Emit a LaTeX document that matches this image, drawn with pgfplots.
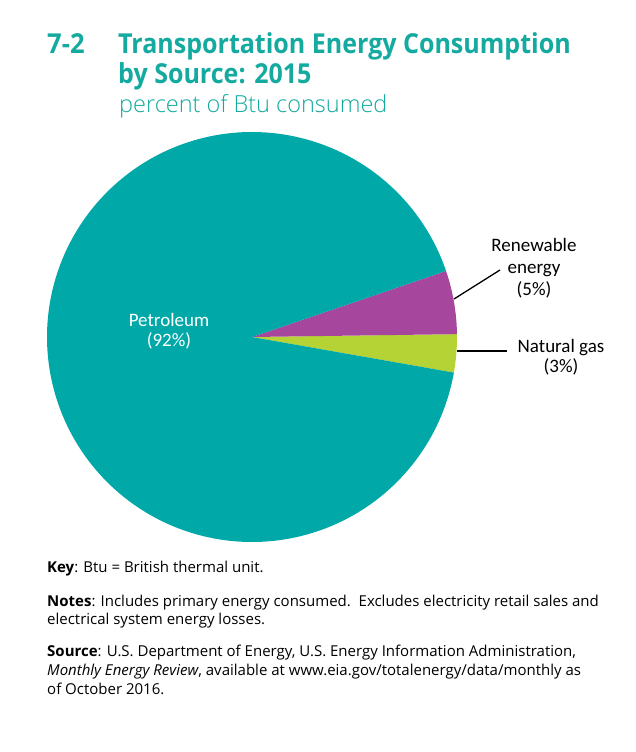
\documentclass[border=0pt]{standalone}
\usepackage{pgfplots}
\pgfplotsset{compat=1.18}
\usepackage{pgfplotstable}
\usepackage{fontspec}
\setmainfont{Carlito}
\newfontfamily\titlefont{Open Sans}
\newfontfamily\bodyfont{Open Sans}
\IfFontExistsTF{Open Sans Light}{\newfontfamily\lightfont{Open Sans Light}}{\newfontfamily\lightfont{Open Sans}}
\definecolor{pteal}{RGB}{0,168,168}
\definecolor{tteal}{RGB}{20,170,160}
\definecolor{ppurple}{RGB}{166,70,156}
\definecolor{pgreen}{RGB}{181,211,52}

\pgfplotstableread{
source value
gas 3
renewable 5
petroleum 92
}\sharetable

\begin{document}
\begin{tikzpicture}[x=1pt,y=1pt]
\path[use as bounding box] (0,0) rectangle (635,-752);
\pgfplotstablegetelem{0}{value}\of\sharetable \pgfmathsetmacro\vgas{\pgfplotsretval}
\pgfplotstablegetelem{1}{value}\of\sharetable \pgfmathsetmacro\vren{\pgfplotsretval}
\pgfplotstablegetelem{2}{value}\of\sharetable \pgfmathsetmacro\vpet{\pgfplotsretval}
\pgfmathsetmacro\aA{-10}
\pgfmathsetmacro\aB{\aA+3.6*\vgas}
\pgfmathsetmacro\aC{\aB+3.6*\vren}
\pgfmathsetmacro\aD{\aC+3.6*\vpet}
\begin{axis}[at={(47pt,-542pt)}, anchor=south west, scale only axis,
  width=410pt, height=410pt, xmin=-1, xmax=1, ymin=-1, ymax=1,
  hide axis, clip=false]
\addplot[fill=pgreen, draw=none, domain=\aA:\aB, samples=20, variable=\t] ({cos(\t)},{sin(\t)}) -- (0,0) -- cycle;
\addplot[fill=ppurple, draw=none, domain=\aB:\aC, samples=30, variable=\t] ({cos(\t)},{sin(\t)}) -- (0,0) -- cycle;
\addplot[fill=pteal, draw=none, domain=\aC:\aD, samples=300, variable=\t] ({cos(\t)},{sin(\t)}) -- (0,0) -- cycle;
\end{axis}
% titles
\begin{scope}[every node/.style={anchor=base west, text=tteal, inner sep=0pt, font=\titlefont\bfseries\fontsize{27.5}{32}\selectfont}]
\node at (47,-53) {\scalebox{0.93}[1]{7-2}};
\node at (118,-53) {\scalebox{0.91}[1]{Transportation Energy Consumption}};
\node at (118,-83) {\scalebox{0.91}[1]{by Source: 2015}};
\end{scope}
\node[anchor=base west, text=tteal, inner sep=0pt, font=\lightfont\fontsize{23.5}{28}\selectfont] at (119,-112) {percent of Btu consumed};
% labels
\node[white, align=center, inner sep=0pt, font=\fontsize{19}{19.5}\selectfont] at (169,-331) {Petroleum\\(92\%)};
\node[align=center, inner sep=0pt, font=\fontsize{19}{22}\selectfont] at (534,-268) {Renewable\\energy\\(5\%)};
\node[align=center, inner sep=0pt, font=\fontsize{19}{19.5}\selectfont] at (561,-357) {Natural gas\\(3\%)};
\draw[line width=1.3pt] (454,-299) -- (500,-270);
\draw[line width=1.3pt] (457,-351) -- (507,-351);
% footer
\begin{scope}[every node/.style={anchor=base west, inner sep=0pt, font=\bodyfont\fontsize{15}{19}\selectfont}]
\node at (47,-572) {\textbf{Key}: Btu = British thermal unit.};
\node at (47,-606) {\textbf{Notes}: Includes primary energy consumed.\ \ Excludes electricity retail sales and};
\node at (47,-624) {electrical system energy losses.};
\node at (47,-656) {\textbf{Source}: U.S. Department of Energy, U.S. Energy Information Administration,};
\node at (47,-675) {\textit{Monthly Energy Review}, available at www.eia.gov/totalenergy/data/monthly as};
\node at (47,-694) {of October 2016.};
\end{scope}
\end{tikzpicture}
\end{document}
